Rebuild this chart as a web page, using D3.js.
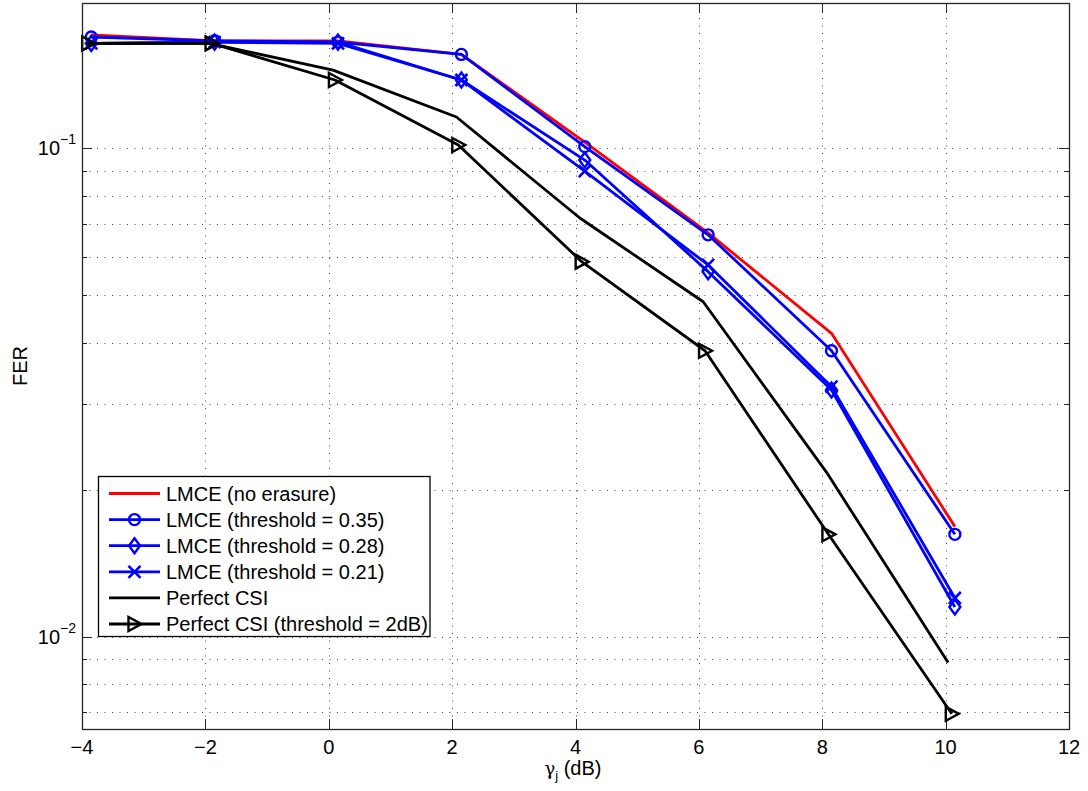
<!DOCTYPE html>
<html>
<head>
<meta charset="utf-8">
<script src="https://cdn.jsdelivr.net/npm/d3@7"></script>
<style>
  body { margin: 0; background: #fff; }
  svg { display: block; font-family: "Liberation Sans", Arial, sans-serif; }
</style>
</head>
<body>
<script>
// x positions (dB) of the simulated points
const xLmce = [-3.85, -1.85, 0.15, 2.15, 4.15, 6.15, 8.15, 10.15];
const xPerfect = [-3.93, -1.93, 0.07, 2.07, 4.07, 6.07, 8.07, 10.04];
const xPerfectThr = [-3.9, -1.9, 0.1, 2.1, 4.1, 6.1, 8.1, 10.1];

// FER values
const ferNoErasure = [0.1706, 0.166, 0.166, 0.1557, 0.103, 0.0671, 0.0418, 0.0168];
const ferThr035 = [0.169, 0.166, 0.165, 0.1557, 0.1008, 0.0665, 0.0385, 0.0162];
const ferThr028 = [0.164, 0.165, 0.165, 0.138, 0.0946, 0.0559, 0.032, 0.0115];
const ferThr021 = [0.164, 0.165, 0.164, 0.138, 0.0898, 0.0577, 0.0325, 0.012];
const ferPerfect = [0.164, 0.164, 0.1446, 0.1159, 0.072, 0.0485, 0.0217, 0.00885];
const ferPerfectThr = [0.164, 0.164, 0.138, 0.1016, 0.0586, 0.0385, 0.0162, 0.00695];

const seriesNames = ['LMCE (no erasure)', 'LMCE (threshold = 0.35)', 'LMCE (threshold = 0.28)',
                     'LMCE (threshold = 0.21)', 'Perfect CSI', 'Perfect CSI (threshold = 2dB)'];
const seriesColors = ['#ff0000', '#0000ff', '#0000ff', '#0000ff', '#000000', '#000000'];
const seriesMarkers = ['none', 'circle', 'diamond', 'x', 'none', 'triangle'];

const xTicks = [-4, -2, 0, 2, 4, 6, 8, 10, 12];
const yMajor = [0.01, 0.1];
const yMinor = [0.007, 0.008, 0.009, 0.02, 0.03, 0.04, 0.05, 0.06, 0.07, 0.08, 0.09];

const series = seriesNames.map((name, i) => ({
    name,
    color: seriesColors[i],
    marker: seriesMarkers[i],
    xs: [xLmce, xLmce, xLmce, xLmce, xPerfect, xPerfectThr][i],
    ys: [ferNoErasure, ferThr035, ferThr028, ferThr021, ferPerfect, ferPerfectThr][i]
}));

const width = 1088, height = 791;
const pLeft = 82, pTop = 3, pRight = 1069, pBottom = 729;
const fs = 20;

const svg = d3.select('body').append('svg')
    .attr('width', width)
    .attr('height', height);

const x = d3.scaleLinear().domain([-4, 12]).range([pLeft, pRight]);
const y = d3.scaleLog().domain([0.00647, 0.1984]).range([pBottom, pTop]);

// grid (dotted)
const grid = svg.append('g')
    .attr('stroke', '#444')
    .attr('stroke-width', 1)
    .attr('stroke-dasharray', '1,6.5');

grid.selectAll('.vg')
    .data(xTicks.slice(1, -1))
    .join('line')
        .attr('x1', d => Math.round(x(d)) + 0.5)
        .attr('x2', d => Math.round(x(d)) + 0.5)
        .attr('y1', pTop)
        .attr('y2', pBottom);

grid.selectAll('.hg')
    .data(yMajor.concat(yMinor))
    .join('line')
        .attr('y1', d => Math.round(y(d)) + 0.5)
        .attr('y2', d => Math.round(y(d)) + 0.5)
        .attr('x1', pLeft)
        .attr('x2', pRight);

// ticks on all four sides (MATLAB box style)
const ticks = svg.append('g').attr('stroke', '#262626').attr('stroke-width', 1);

xTicks.forEach(t => {
    const px = Math.round(x(t)) + 0.5;
    ticks.append('line').attr('x1', px).attr('x2', px).attr('y1', pBottom).attr('y2', pBottom - 10);
    ticks.append('line').attr('x1', px).attr('x2', px).attr('y1', pTop).attr('y2', pTop + 10);
});

yMajor.forEach(t => {
    const py = Math.round(y(t)) + 0.5;
    ticks.append('line').attr('x1', pLeft).attr('x2', pLeft + 10).attr('y1', py).attr('y2', py);
    ticks.append('line').attr('x1', pRight).attr('x2', pRight - 10).attr('y1', py).attr('y2', py);
});

yMinor.forEach(t => {
    const py = Math.round(y(t)) + 0.5;
    ticks.append('line').attr('x1', pLeft).attr('x2', pLeft + 5).attr('y1', py).attr('y2', py);
    ticks.append('line').attr('x1', pRight).attr('x2', pRight - 5).attr('y1', py).attr('y2', py);
});

// data lines
const line = d3.line()
    .x(d => x(d[0]))
    .y(d => y(d[1]));

// marker drawing helper
function drawMarker(g, type, color) {
    if (type === 'circle') {
        g.append('circle').attr('r', 5.5)
            .attr('fill', 'none').attr('stroke', color).attr('stroke-width', 2.4);
    } else if (type === 'diamond') {
        g.append('path').attr('d', 'M0,-7.5L5.5,0L0,7.5L-5.5,0Z')
            .attr('fill', 'none').attr('stroke', color).attr('stroke-width', 2.4);
    } else if (type === 'x') {
        g.append('path').attr('d', 'M-6,-6L6,6M-6,6L6,-6')
            .attr('fill', 'none').attr('stroke', color).attr('stroke-width', 2.6);
    } else if (type === 'triangle') {
        g.append('path').attr('d', 'M-6,-7L7,0L-6,7Z')
            .attr('fill', 'none').attr('stroke', color).attr('stroke-width', 2.4)
            .attr('stroke-linejoin', 'miter');
    }
}

const plot = svg.append('g');

series.forEach(s => {
    const pts = s.xs.map((v, i) => [v, s.ys[i]]);
    const g = plot.append('g');
    g.append('path')
        .datum(pts)
        .attr('d', line)
        .attr('fill', 'none')
        .attr('stroke', s.color)
        .attr('stroke-width', 2.8)
        .attr('stroke-linejoin', 'round');
    if (s.marker !== 'none') {
        pts.forEach(p => {
            const m = g.append('g').attr('transform', `translate(${x(p[0])},${y(p[1])})`);
            drawMarker(m, s.marker, s.color);
        });
    }
});

// axes box
svg.append('rect')
    .attr('x', pLeft + 0.5)
    .attr('y', pTop + 0.5)
    .attr('width', pRight - pLeft)
    .attr('height', pBottom - pTop)
    .attr('fill', 'none')
    .attr('stroke', '#262626')
    .attr('stroke-width', 1.3);

// x tick labels
svg.append('g')
    .selectAll('text')
    .data(xTicks)
    .join('text')
        .attr('x', d => x(d))
        .attr('y', 754)
        .attr('text-anchor', 'middle')
        .attr('font-size', fs)
        .attr('fill', '#000')
        .text(d => d < 0 ? '\u2212' + Math.abs(d) : d);

// y tick labels 10^n
yMajor.forEach(t => {
    const txt = svg.append('text')
        .attr('x', 76)
        .attr('y', y(t) + 7)
        .attr('text-anchor', 'end')
        .attr('font-size', fs)
        .attr('fill', '#000');
    txt.append('tspan').text('10');
    txt.append('tspan')
        .attr('dy', -11)
        .attr('font-size', 14)
        .text('\u2212' + Math.round(-Math.log10(t)));
});

// axis titles
const xt = svg.append('text')
    .attr('x', 573)
    .attr('y', 775)
    .attr('text-anchor', 'middle')
    .attr('font-size', fs)
    .attr('fill', '#000');
xt.append('tspan').attr('font-family', '"DejaVu Serif", serif').attr('font-size', 18).text('\u03b3');
xt.append('tspan').attr('dy', 5).attr('font-size', 13).text('j');
xt.append('tspan').attr('dy', -5).text(' (dB)');

svg.append('text')
    .attr('transform', `translate(27,${(pTop + pBottom) / 2}) rotate(-90)`)
    .attr('text-anchor', 'middle')
    .attr('font-size', fs)
    .attr('fill', '#000')
    .text('FER');

// legend
const legend = svg.append('g');
legend.append('rect')
    .attr('x', 98.5)
    .attr('y', 476.5)
    .attr('width', 331.5)
    .attr('height', 160)
    .attr('fill', '#fff')
    .attr('stroke', '#000')
    .attr('stroke-width', 1.3);

series.forEach((s, i) => {
    const ly = 493.5 + i * 26.1;
    legend.append('line')
        .attr('x1', 109).attr('x2', 160)
        .attr('y1', ly).attr('y2', ly)
        .attr('stroke', s.color)
        .attr('stroke-width', 2.8);
    if (s.marker !== 'none') {
        drawMarker(legend.append('g').attr('transform', `translate(134.5,${ly})`), s.marker, s.color);
    }
    legend.append('text')
        .attr('x', 166)
        .attr('y', ly + 7)
        .attr('font-size', fs)
        .attr('fill', '#000')
        .text(s.name);
});
</script>
</body>
</html>
